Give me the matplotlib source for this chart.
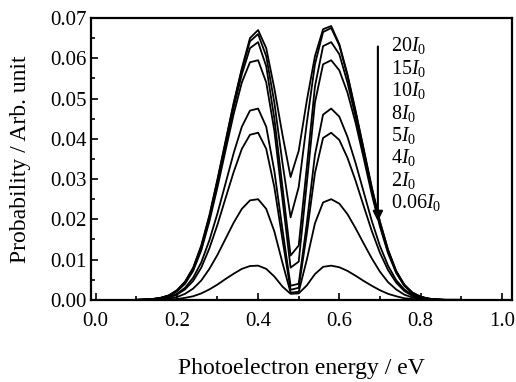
import matplotlib
matplotlib.use('Agg')
import matplotlib.pyplot as plt
import numpy as np
from matplotlib.ticker import MultipleLocator

plt.rcParams['font.family'] = 'Liberation Serif'
plt.rcParams['mathtext.fontset'] = 'custom'
plt.rcParams['mathtext.rm'] = 'Liberation Serif'
plt.rcParams['mathtext.it'] = 'Liberation Serif:italic'

energy = np.round(np.arange(0.10, 0.901, 0.02), 2)

p20 = [0.0000, 0.0001, 0.0002, 0.0005, 0.0011, 0.0024, 0.0045, 0.0080, 0.0135, 0.0210,
       0.0300, 0.0395, 0.0490, 0.0575, 0.0650, 0.0670, 0.0625, 0.0525, 0.0410, 0.0305,
       0.0370, 0.0495, 0.0605, 0.0672, 0.0680, 0.0635, 0.0560, 0.0470, 0.0375, 0.0280,
       0.0195, 0.0125, 0.0072, 0.0038, 0.0018, 0.0008, 0.0003, 0.0001, 0.0000, 0.0000, 0.0000]
p15 = [0.0000, 0.0001, 0.0002, 0.0005, 0.0011, 0.0023, 0.0044, 0.0078, 0.0132, 0.0207,
       0.0297, 0.0392, 0.0487, 0.0572, 0.0642, 0.0660, 0.0605, 0.0490, 0.0340, 0.0205,
       0.0280, 0.0440, 0.0585, 0.0665, 0.0675, 0.0632, 0.0557, 0.0467, 0.0372, 0.0277,
       0.0193, 0.0123, 0.0071, 0.0037, 0.0018, 0.0008, 0.0003, 0.0001, 0.0000, 0.0000, 0.0000]
p10 = [0.0000, 0.0001, 0.0002, 0.0005, 0.0010, 0.0022, 0.0042, 0.0075, 0.0128, 0.0202,
       0.0290, 0.0385, 0.0478, 0.0560, 0.0625, 0.0640, 0.0580, 0.0450, 0.0280, 0.0110,
       0.0135, 0.0330, 0.0530, 0.0630, 0.0640, 0.0610, 0.0540, 0.0455, 0.0362, 0.0270,
       0.0188, 0.0120, 0.0069, 0.0036, 0.0017, 0.0007, 0.0003, 0.0001, 0.0000, 0.0000, 0.0000]
p8 = [0.0000, 0.0001, 0.0002, 0.0004, 0.0010, 0.0021, 0.0040, 0.0072, 0.0123, 0.0195,
      0.0280, 0.0372, 0.0462, 0.0540, 0.0590, 0.0595, 0.0540, 0.0420, 0.0250, 0.0080,
      0.0095, 0.0290, 0.0490, 0.0585, 0.0595, 0.0570, 0.0515, 0.0440, 0.0352, 0.0262,
      0.0182, 0.0116, 0.0067, 0.0035, 0.0016, 0.0007, 0.0003, 0.0001, 0.0000, 0.0000, 0.0000]
p5 = [0.0000, 0.0000, 0.0001, 0.0003, 0.0007, 0.0015, 0.0030, 0.0055, 0.0093, 0.0148,
      0.0215, 0.0290, 0.0365, 0.0430, 0.0470, 0.0475, 0.0430, 0.0320, 0.0175, 0.0035,
      0.0040, 0.0190, 0.0360, 0.0460, 0.0475, 0.0455, 0.0405, 0.0340, 0.0268, 0.0196,
      0.0134, 0.0085, 0.0049, 0.0026, 0.0012, 0.0005, 0.0002, 0.0001, 0.0000, 0.0000, 0.0000]
p4 = [0.0000, 0.0000, 0.0001, 0.0002, 0.0006, 0.0013, 0.0026, 0.0047, 0.0080, 0.0128,
      0.0187, 0.0253, 0.0318, 0.0375, 0.0410, 0.0415, 0.0375, 0.0280, 0.0150, 0.0025,
      0.0030, 0.0165, 0.0315, 0.0402, 0.0415, 0.0397, 0.0353, 0.0296, 0.0233, 0.0171,
      0.0117, 0.0074, 0.0043, 0.0022, 0.0010, 0.0004, 0.0002, 0.0000, 0.0000, 0.0000, 0.0000]
p2 = [0.0000, 0.0000, 0.0000, 0.0001, 0.0003, 0.0007, 0.0015, 0.0028, 0.0048, 0.0077,
      0.0112, 0.0152, 0.0192, 0.0226, 0.0247, 0.0250, 0.0226, 0.0170, 0.0092, 0.0018,
      0.0020, 0.0100, 0.0190, 0.0242, 0.0250, 0.0239, 0.0213, 0.0178, 0.0140, 0.0103,
      0.0070, 0.0044, 0.0026, 0.0013, 0.0006, 0.0003, 0.0001, 0.0000, 0.0000, 0.0000, 0.0000]
p006 = [0.0000, 0.0000, 0.0000, 0.0000, 0.0001, 0.0002, 0.0005, 0.0009, 0.0016, 0.0026,
        0.0038, 0.0052, 0.0065, 0.0077, 0.0084, 0.0085, 0.0077, 0.0058, 0.0033, 0.0015,
        0.0016, 0.0036, 0.0064, 0.0082, 0.0085, 0.0081, 0.0072, 0.0060, 0.0047, 0.0035,
        0.0024, 0.0015, 0.0009, 0.0004, 0.0002, 0.0001, 0.0000, 0.0000, 0.0000, 0.0000, 0.0000]

curves = [p20, p15, p10, p8, p5, p4, p2, p006]
labels = ['20$I_0$', '15$I_0$', '10$I_0$', '8$I_0$', '5$I_0$', '4$I_0$', '2$I_0$', '0.06$I_0$']

fig = plt.figure(figsize=(5.16, 3.82), dpi=100)
ax = fig.add_axes([0.176, 0.215, 0.816, 0.738])

for c in curves:
    ax.plot(energy, c, color='k', lw=1.3)

ax.set_xlim(-0.012, 1.025)
ax.set_ylim(0, 0.07)
ax.xaxis.set_major_locator(MultipleLocator(0.2))
ax.xaxis.set_minor_locator(MultipleLocator(0.1))
ax.yaxis.set_major_locator(MultipleLocator(0.01))
ax.yaxis.set_minor_locator(MultipleLocator(0.005))
ax.xaxis.set_major_formatter(plt.FormatStrFormatter('%.1f'))
ax.yaxis.set_major_formatter(plt.FormatStrFormatter('%.2f'))
ax.tick_params(which='both', direction='in', labelsize=15, width=1.2)
ax.tick_params(which='major', length=5)
ax.tick_params(which='minor', length=3)
ax.tick_params(axis='x', pad=9)
ax.tick_params(axis='y', pad=3)
for s in ax.spines.values():
    s.set_linewidth(1.6)

ax.set_xlabel('Photoelectron energy / eV', fontsize=17, labelpad=19)
ax.set_ylabel('Probability / Arb. unit', fontsize=17, labelpad=14)

ax.annotate('', xy=(0.695, 0.0188), xytext=(0.695, 0.0636),
            arrowprops=dict(arrowstyle='-|>', color='k', lw=1.5, mutation_scale=15))
ys = np.linspace(0.0631, 0.0241, len(labels))
for lab, yy in zip(labels, ys):
    ax.text(0.728, yy, lab, fontsize=14.5, va='center', ha='left')

fig.savefig('out.png', dpi=100)
